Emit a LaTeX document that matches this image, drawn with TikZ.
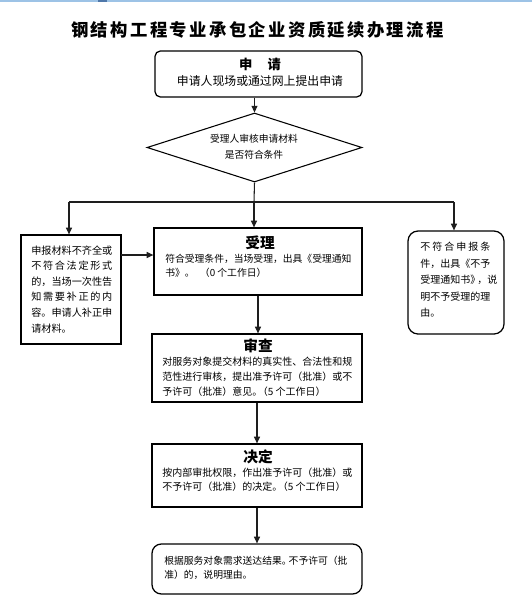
\documentclass[tikz,border=0pt]{standalone}
\usepackage{fontspec}
\setmainfont{Noto Sans CJK SC}
\usetikzlibrary{arrows.meta,shapes.geometric}
\definecolor{topblue}{RGB}{157,195,230}
\definecolor{topdark}{RGB}{79,120,170}
\definecolor{linecol}{RGB}{30,30,30}
\newcommand\tsp{\hspace{1.8pt}}
\begin{document}
\begin{tikzpicture}[x=0.75pt,y=-0.75pt,
  bx/.style={draw=black,line width=0.95pt,inner sep=0pt},
  arr/.style={draw=linecol,line width=0.8pt,-{Triangle[length=5pt,width=4.5pt]}},
  ln/.style={draw=linecol,line width=0.8pt},
  ttl/.style={inner sep=0pt,font=\fontsize{11pt}{13pt}\selectfont\bfseries},
  body/.style={anchor=north west,align=left,inner sep=0pt,font=\fontsize{7.5pt}{#1}\selectfont},
  body/.default=11.25pt]
\fill[white] (0,0) rectangle (532,608);
\useasboundingbox (0,0) rectangle (532,608);
% top edge
\draw[topblue,line width=1.2pt] (0,0.8) -- (532,0.8);
\draw[topdark,line width=1.2pt] (98,0.8) -- (107,0.8);
% title
\node[inner sep=0pt,font=\fontsize{13pt}{15pt}\selectfont\bfseries] (title) at (257.5,30)
 {钢\tsp 结\tsp 构\tsp 工\tsp 程\tsp 专\tsp 业\tsp 承\tsp 包\tsp 企\tsp 业\tsp 资\tsp 质\tsp 延\tsp 续\tsp 办\tsp 理\tsp 流\tsp 程};
% apply
\node[bx,rounded corners=4pt,minimum width=207*0.75pt,minimum height=46*0.75pt] (apply) at (258.5,74) {};
\node[inner sep=0pt,font=\fontsize{10pt}{12pt}\selectfont\bfseries] (applyT) at (260,64) {申\hspace{1.15em}请};
\node[inner sep=0pt,font=\fontsize{8.9pt}{10pt}\selectfont] (applyS) at (260,81) {申请人现场或通过网上提出申请};
% diamond
\node[draw=black,line width=0.8pt,diamond,inner sep=0pt,minimum width=215*0.75pt,minimum height=69*0.75pt] (dia) at (254.5,147.5) {};
\node[inner sep=0pt,align=center,font=\fontsize{7.3pt}{12pt}\selectfont] (diaT) at (254,147) {受理人审核申请材料\\是否符合条件};
% left box
\node[bx,minimum width=100*0.75pt,minimum height=109*0.75pt] (left) at (71,289.5) {};
\node[body,font=\fontsize{7.6pt}{11.7pt}\selectfont] (leftT) at (31,245.2)
 {申报材料不齐全或\\
  \makebox[8em][s]{不 符 合 法 定 形 式}\\
  的，当场一次性告\\
  \makebox[8em][s]{知 需 要 补 正 的 内}\\
  容。申请人补正申\\
  请材料。};
% accept
\node[bx,minimum width=208*0.75pt,minimum height=67*0.75pt] (accept) at (258,261.5) {};
\node[ttl] (acceptT) at (260,243) {受理};
\node[body=10.5pt,font=\fontsize{7.35pt}{10.5pt}\selectfont] (acceptB) at (165,254.3)
 {符合受理条件，当场受理，出具《受理通知\\书》。\hspace{4pt}（0 个工作日）};
% reject
\node[bx,rounded corners=7.5pt,minimum width=96*0.75pt,minimum height=103*0.75pt] (reject) at (456,282.5) {};
\node[body,font=\fontsize{7.5pt}{12.4pt}\selectfont] (rejectT) at (420,242)
 {\makebox[7em][s]{不 符 合 申 报 条}\\
  件，出具《不予\\
  受理通知书》\kern-0.3em，说\\
  明不予受理的理\\
  由。};
% review
\node[bx,minimum width=210*0.75pt,minimum height=68*0.75pt] (review) at (257,368) {};
\node[ttl] (reviewT) at (258,346) {审查};
\node[body] (reviewB) at (162,357)
 {对服务对象提交材料的真实性、合法性和规\\范性进行审核，提出准予许可（批准）或不\\予许可（批准）意见。\kern-0.45em（5 个工作日）};
% decide
\node[bx,minimum width=210*0.75pt,minimum height=63*0.75pt] (decide) at (257,475.5) {};
\node[ttl] (decideT) at (258,457) {决定};
\node[body,font=\fontsize{7.5pt}{10.5pt}\selectfont] (decideB) at (162,468)
 {按内部审批权限，作出准予许可（批准）或\\不予许可（批准）的决定。\kern-0.45em（5 个工作日）};
% final
\node[bx,rounded corners=7pt,minimum width=210*0.75pt,minimum height=50*0.75pt] (final) at (257,569) {};
\node[body,font=\fontsize{7.35pt}{10.5pt}\selectfont] (finalB) at (164,556.1)
 {根据服务对象需求送达结果。\kern-0.3em不予许可（批\\准）的，说明理由。};
% connectors
\draw[arr] (dia.north |- apply.south) -- (dia.north);
\coordinate (br) at (254,202);
\coordinate (brL) at (69,202);
\coordinate (brR) at (454,202);
\draw[ln] (dia.south) -- (br);
\draw[ln] (brL) -- (brR);
\draw[arr] (brL) -- (brL |- left.north);
\draw[arr] (br) -- (br |- accept.north);
\draw[arr] (brR) -- (brR |- reject.north);
\coordinate (la) at (121,255);
\draw[arr] (la) -- (la -| accept.west);
\draw[arr] (accept.south) -- (accept.south |- review.north);
\draw[arr] (review.south) -- (decide.north);
\draw[arr] (decide.south) -- (final.north);
\end{tikzpicture}
\end{document}
